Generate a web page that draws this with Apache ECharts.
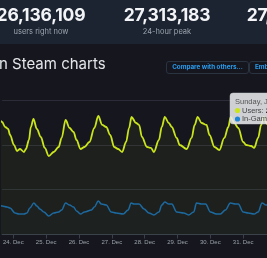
<!DOCTYPE html>
<html><head><meta charset="utf-8">
<script src="https://cdn.jsdelivr.net/npm/echarts@6/dist/echarts.min.js"></script>
<style>
html,body{margin:0;padding:0;width:267px;height:258px;overflow:hidden;background:#16171e;font-family:Inter,"Noto Sans",Roboto,sans-serif;}
#hdr{position:absolute;left:0;top:0;width:267px;height:44px;background:#1c2431;z-index:2;}
.num{position:absolute;top:4px;width:120px;text-align:center;color:#f2f4f7;font-weight:700;font-size:17.5px;letter-spacing:-0.2px;}
.lbl{position:absolute;top:27px;width:120px;text-align:center;color:#9aa4ae;font-size:7.5px;}
#title{position:absolute;left:-1px;top:54px;color:#e4e6ea;font-size:15px;white-space:nowrap;z-index:2;}
.btn{position:absolute;top:61px;height:11px;border:1px solid #2a3340;border-radius:3px;color:#2a9df0;font-weight:700;font-size:6.3px;line-height:11px;white-space:nowrap;z-index:2;box-sizing:content-box;}
#chart{position:absolute;left:0;top:0;width:267px;height:258px;z-index:1;}
</style></head>
<body>
<div id="hdr">
  <div class="num" style="left:-19px">26,136,109</div><div class="lbl" style="left:-19px">users right now</div>
  <div class="num" style="left:107px">27,313,183</div><div class="lbl" style="left:107px">24-hour peak</div>
  <div class="num" style="left:230px">27,313,183</div><div class="lbl" style="left:230px">all-time peak</div>
</div>
<div id="title">n Steam charts</div>
<div class="btn" style="left:166px;width:75px;padding:0 3px;text-align:center">Compare with others...</div>
<div class="btn" style="left:249px;width:40px;padding:0 5px">Embed</div>
<div id="chart"></div>
<script>
// hours after 24 Dec 00:00 (local) and values in millions
const usersHours = [-10.4,-8.2,-6.0,-3.8,-2.4,0.5,2.7,4.9,7.8,9.2,
  11.4,12.8,14.7,17.2,20.1,23.0,25.9,29.5,33.1,35.3,
  38.2,41.1,44.0,46.2,49.1,52.0,55.6,59.2,62.1,65.0,
  67.9,70.8,73.7,76.6,79.5,82.4,84.6,86.4,89.7,91.9,
  94.0,97.7,100.6,102.7,106.4,108.5,110.7,113.6,115.8,119.4,
  121.6,126.7,130.3,132.5,134.7,137.6,141.2,143.4,147.0,150.6,
  154.2,157.1,158.9,161.5,164.4,168.0,170.2,173.8,176.0,178.9,
  181.1,182.9,185.4,189.0];
const usersValues = [25.97,25.09,23.98,23.53,22.19,19.96,18.63,19.07,18.40,19.07,
  21.08,23.98,25.76,23.53,21.75,19.30,17.51,18.40,19.52,21.53,
  25.54,23.76,22.86,21.08,19.07,19.52,20.63,23.76,26.43,24.43,
  23.98,22.19,19.52,19.07,18.40,20.63,23.76,26.21,24.87,24.43,
  21.75,19.52,19.30,18.40,21.08,23.98,26.21,24.87,23.98,21.53,
  19.96,19.07,21.53,24.43,26.21,24.87,24.43,22.19,19.52,18.85,
  21.53,23.98,26.21,24.87,23.76,20.63,19.96,19.74,19.30,21.53,
  24.43,26.21,24.65,23.76];
const ingameHours = [-10.4,-8.2,-4.6,-2.4,1.2,4.1,7.8,9.9,12.1,15.0,
  17.2,19.4,22.3,25.9,29.5,33.1,35.3,38.2,41.1,44.0,
  46.2,49.1,52.0,57.1,59.2,62.1,64.3,67.9,71.6,75.2,
  80.3,83.9,86.1,88.2,91.9,95.5,99.1,102.7,106.4,108.5,
  110.7,113.6,115.8,119.4,124.5,128.1,131.8,133.9,137.6,140.5,
  144.1,148.4,151.3,155.0,158.6,162.2,164.4,168.0,171.6,176.0,
  178.9,181.8,184.7,189.0];
const ingameValues = [6.80,6.36,6.13,5.91,4.80,4.57,4.57,4.80,5.91,7.03,
  6.36,5.69,5.02,4.13,4.80,5.02,5.47,7.03,6.58,6.13,
  5.24,4.57,5.02,5.47,6.13,7.47,6.80,6.58,5.02,4.80,
  4.57,5.47,7.03,6.80,6.80,5.69,4.80,4.35,5.02,6.58,
  7.25,6.80,6.80,5.02,4.80,4.35,5.02,7.03,6.80,6.80,
  5.02,4.57,4.57,5.47,7.03,6.80,6.80,5.02,4.80,4.57,
  5.02,7.03,6.58,6.36];
const monthNames = ['Jan','Feb','Mar','Apr','May','Jun','Jul','Aug','Sep','Oct','Nov','Dec'];
const tipLines = ['Sunday, January 2, 2022 16:00', 'Users: ', '27,313,183', 'In-Game: ', '8,148,066'];

const base = new Date(2021, 11, 24).getTime();
const H = 3600 * 1000;
const toPairs = (hs, vs) => hs.map((h, i) => [base + h * H, vs[i]]);
const usersColor = '#cbe51c', ingameColor = '#1d6aa0';

const chart = echarts.init(document.getElementById('chart'), null, {renderer: 'canvas'});
chart.setOption({
  animation: false,
  backgroundColor: 'transparent',
  grid: {left: 0, right: 0, top: 100, bottom: 23.5},
  xAxis: {
    type: 'time',
    min: base - 8.19 * H,
    max: base + 185.4 * H,
    minInterval: 24 * H, maxInterval: 24 * H,
    axisLine: {lineStyle: {color: '#3b3f4b', width: 1}},
    axisTick: {show: true, length: 4, lineStyle: {color: '#3b3f4b'}},
    splitLine: {show: false},
    axisLabel: {color: '#9aa1aa', fontSize: 6, margin: 5, fontFamily: 'Liberation Sans, Arial, sans-serif',
      formatter: v => { const d = new Date(v); return d.getDate() + '. ' + monthNames[d.getMonth()]; }}
  },
  yAxis: {
    type: 'value', min: 0, max: 30, interval: 10,
    axisLabel: {show: false}, axisLine: {show: false}, axisTick: {show: false},
    splitLine: {lineStyle: {color: '#2a2d37', width: 1}}
  },
  series: [
    {name: 'Users', type: 'line', data: toPairs(usersHours, usersValues), showSymbol: false,
      smooth: 0.35, smoothMonotone: 'x', lineStyle: {color: usersColor, width: 1.8},
      areaStyle: {color: 'rgba(203,229,28,0.06)'}},
    {name: 'In-Game', type: 'line', data: toPairs(ingameHours, ingameValues), showSymbol: false,
      smooth: 0.35, smoothMonotone: 'x', lineStyle: {color: ingameColor, width: 1.5},
      areaStyle: {color: 'rgba(29,106,160,0.05)'}}
  ],
  graphic: [
    {type: 'rect', shape: {x: 230, y: 93, width: 80, height: 31, r: 3}, z: 100,
      style: {fill: 'rgba(232,234,237,0.88)', stroke: 'rgba(200,203,208,0.9)', lineWidth: 0.5}},
    {type: 'text', x: 235, y: 102, z: 101, style: {text: tipLines[0], fill: '#555', fontSize: 7.5, verticalAlign: 'middle', fontFamily: 'Liberation Sans, Arial, sans-serif'}},
    {type: 'circle', shape: {cx: 237.5, cy: 110.5, r: 2.6}, z: 101, style: {fill: usersColor}},
    {type: 'text', x: 242, y: 110.5, z: 101, style: {text: '{a|' + tipLines[1] + '}{b|' + tipLines[2] + '}', verticalAlign: 'middle',
      rich: {a: {fill: '#444', fontSize: 7.5, fontFamily: 'Liberation Sans, Arial, sans-serif'}, b: {fill: '#222', fontSize: 7.5, fontWeight: 'bold', fontFamily: 'Liberation Sans, Arial, sans-serif'}}}},
    {type: 'circle', shape: {cx: 237.5, cy: 119, r: 2.6}, z: 101, style: {fill: '#1e86d6'}},
    {type: 'text', x: 242, y: 119, z: 101, style: {text: '{a|' + tipLines[3] + '}{b|' + tipLines[4] + '}', verticalAlign: 'middle',
      rich: {a: {fill: '#444', fontSize: 7.5, fontFamily: 'Liberation Sans, Arial, sans-serif'}, b: {fill: '#222', fontSize: 7.5, fontWeight: 'bold', fontFamily: 'Liberation Sans, Arial, sans-serif'}}}}
  ]
});
</script>
</body></html>
